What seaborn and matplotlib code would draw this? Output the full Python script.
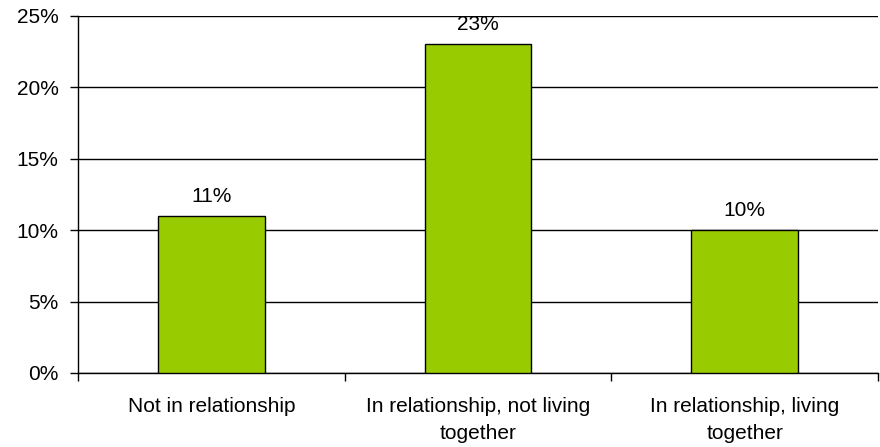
import matplotlib
matplotlib.use('Agg')
import matplotlib.pyplot as plt
import seaborn as sns
import pandas as pd
from matplotlib.ticker import FuncFormatter, FixedLocator

categories = ['Not in relationship', 'In relationship, not living\ntogether', 'In relationship, living\ntogether']
values = [11, 23, 10]
yticks = [0, 5, 10, 15, 20, 25]

df = pd.DataFrame({'status': categories, 'pct': values})

sns.set_theme(style='white')
plt.rcParams['font.family'] = ['Liberation Sans', 'DejaVu Sans']
plt.rcParams['text.color'] = 'black'
plt.rcParams['xtick.color'] = 'black'
plt.rcParams['ytick.color'] = 'black'

fig = plt.figure(figsize=(8.8, 4.47), dpi=100)
ax = fig.add_axes([78 / 880, 74 / 447, 800 / 880, 357.5 / 447])

sns.barplot(data=df, x='status', y='pct', color='#99CC00', width=0.4,
            edgecolor='black', linewidth=1, saturation=1, ax=ax, zorder=3)

ax.set_ylim(0, 25)
ax.set_xlim(-0.5, 2.5)
ax.set_yticks(yticks)
ax.yaxis.set_major_formatter(FuncFormatter(lambda v, p: f'{int(v)}%'))
ax.yaxis.grid(True, color='black', linewidth=1)
ax.set_axisbelow(True)

# category separators as ticks
ax.xaxis.set_major_locator(FixedLocator([-0.5, 0.5, 1.5, 2.5]))
ax.set_xticklabels([])
ax.xaxis.set_minor_locator(FixedLocator([0, 1, 2]))
ax.set_xticklabels(categories, minor=True, fontsize=15, linespacing=1.55)
ax.tick_params(axis='x', which='minor', length=0, pad=17, labelcolor='black')
ax.tick_params(axis='x', which='major', direction='out', length=6, width=1, color='black', bottom=True)
ax.tick_params(axis='y', direction='out', length=6, width=1, color='black', left=True,
               labelsize=15, pad=8, labelcolor='black')

for side in ['top', 'right']:
    ax.spines[side].set_visible(False)
for side in ['left', 'bottom']:
    ax.spines[side].set_color('black')
    ax.spines[side].set_linewidth(1)

for i, v in enumerate(values):
    ax.annotate(f'{v}%', (i, v), xytext=(0, 14), textcoords='offset points',
                ha='center', va='center', fontsize=15, color='black')

ax.set_xlabel('')
ax.set_ylabel('')

fig.savefig('out.png', dpi=100)
